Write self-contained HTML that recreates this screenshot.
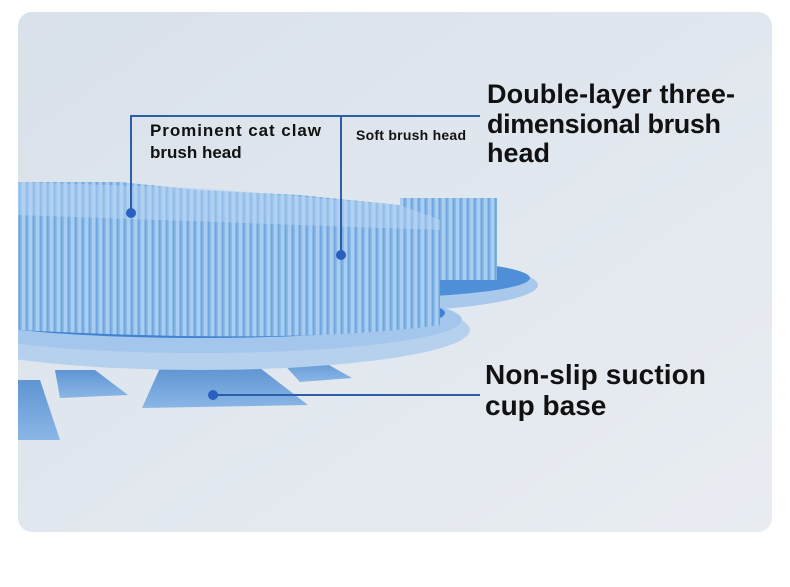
<!DOCTYPE html>
<html><head><style>
html,body{margin:0;padding:0;background:#fff;width:790px;height:587px;overflow:hidden}
.t{font-family:"Liberation Sans",sans-serif;font-weight:bold;fill:#111}
</style></head><body>
<svg width="790" height="587" viewBox="0 0 790 587" xmlns="http://www.w3.org/2000/svg">
<defs>
<linearGradient id="bg" x1="0" y1="0" x2="1" y2="1">
<stop offset="0" stop-color="#d9e1ea"/><stop offset="1" stop-color="#e9edf2"/></linearGradient>
<pattern id="br" width="7" height="20" patternUnits="userSpaceOnUse">
<rect width="7" height="20" fill="#8dbbe8"/><rect x="1" width="3" height="20" fill="#a9cdf1"/><rect x="5" width="1.5" height="20" fill="#6fa5dc"/></pattern>
<linearGradient id="cup" x1="0" y1="0" x2="0" y2="1"><stop offset="0" stop-color="#5f95d3"/><stop offset="1" stop-color="#8ab6e6"/></linearGradient>
<clipPath id="pc"><rect x="18" y="12" width="754" height="520" rx="14"/></clipPath>
</defs>
<rect x="18" y="12" width="754" height="520" rx="14" fill="url(#bg)"/>
<g clip-path="url(#pc)">
<path d="M0 380 L40 380 L60 440 L0 440Z" fill="url(#cup)"/>
<path d="M55 370 L95 370 L128 395 L60 398Z" fill="url(#cup)"/>
<path d="M280 360 L320 360 L352 378 L300 382Z" fill="url(#cup)"/>
<path d="M160 368 L260 368 L308 405 L142 408Z" fill="url(#cup)"/>
<ellipse cx="360" cy="285" rx="178" ry="27" fill="#a9c9ec"/>
<ellipse cx="360" cy="278" rx="170" ry="20" fill="#4f8fd8"/>
<rect x="400" y="198" width="97" height="82" fill="url(#br)"/>
<ellipse cx="200" cy="330" rx="270" ry="40" fill="#b6d1ee"/>
<ellipse cx="200" cy="320" rx="262" ry="33" fill="#a4c6ec"/>
<ellipse cx="200" cy="313" rx="245" ry="25" fill="#3f82d3"/>
<path d="M18 182 L120 182 L200 190 L300 195 L400 205 L440 220 L440 325 Q300 345 18 330Z" fill="url(#br)"/>
<path d="M18 182 L200 188 L400 205 L440 220 L440 230 L18 215Z" fill="#b8d6f4" opacity="0.5"/>
</g>
<g stroke="#2d5fa8" stroke-width="2" fill="none">
<path d="M131 213 V116 H480"/><path d="M341 255 V116"/><path d="M213 395 H480"/>
</g>
<g fill="#2a5fbf"><circle cx="131" cy="213" r="5"/><circle cx="341" cy="255" r="5"/><circle cx="213" cy="395" r="5"/></g>
<text class="t" x="150" y="136" font-size="17" textLength="171">Prominent cat claw</text>
<text class="t" x="150" y="158" font-size="17">brush head</text>
<text class="t" x="356" y="140" font-size="14" textLength="110">Soft brush head</text>
<text class="t" x="487" y="103" font-size="27" textLength="248">Double-layer three-</text>
<text class="t" x="487" y="133" font-size="27" textLength="234">dimensional brush</text>
<text class="t" x="487" y="162" font-size="27">head</text>
<text class="t" x="485" y="384" font-size="28" textLength="221">Non-slip suction</text>
<text class="t" x="485" y="415" font-size="28">cup base</text>
</svg>
</body></html>
